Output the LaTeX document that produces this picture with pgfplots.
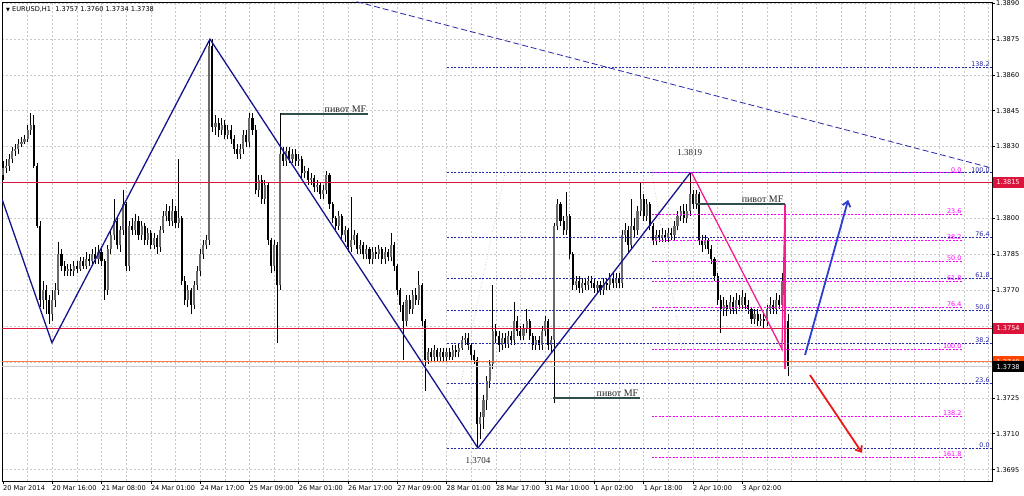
\documentclass[border=0pt]{standalone}
\usepackage{fontspec}
\setmainfont{DejaVu Sans}
\newfontfamily\rufont{Liberation Serif}
\usepackage{pgfplots}
\usepackage{pgfplotstable}
\pgfplotsset{compat=1.18}
\usetikzlibrary{arrows.meta}

\definecolor{navyz}{RGB}{20,20,140}
\definecolor{fibnavy}{RGB}{40,40,170}
\definecolor{fibmag}{RGB}{255,0,255}
\definecolor{crim}{RGB}{220,20,60}
\definecolor{pinkz}{RGB}{245,30,140}
\definecolor{slate}{RGB}{47,79,79}
\definecolor{bullc}{RGB}{105,105,105}
\definecolor{gridc}{RGB}{200,200,200}
\definecolor{orangel}{RGB}{255,120,70}
\definecolor{orangeb}{RGB}{255,69,0}
\definecolor{arrblue}{RGB}{45,60,210}
\definecolor{arrred}{RGB}{235,25,25}

\newcommand\tfont{\fontsize{6.6}{7}\selectfont}
\newcommand\ffont{\fontsize{6.4}{7}\selectfont}
\newcommand\sfont{\rufont\fontsize{10}{10}\selectfont}

\pgfplotstableread{
b o h l c
0 1.3818 1.3824 1.3816 1.3821
1 1.3821 1.3825 1.3819 1.3822
2 1.3822 1.3827 1.3820 1.3825
3 1.3825 1.3830 1.3823 1.3828
4 1.3828 1.3831 1.3826 1.3829
5 1.3829 1.3833 1.3827 1.3831
6 1.3831 1.3834 1.3830 1.3832
7 1.3832 1.3835 1.3831 1.3833
8 1.3833 1.3839 1.3832 1.3837
9 1.3837 1.3844 1.3835 1.3839
10 1.3839 1.3843 1.3821 1.3822
11 1.3822 1.3823 1.3796 1.3797
12 1.3797 1.3799 1.3763 1.3766
13 1.3766 1.3774 1.3762 1.3770
14 1.3770 1.3772 1.3760 1.3766
15 1.3766 1.3768 1.3756 1.3760
16 1.3760 1.3770 1.3757 1.3766
17 1.3766 1.3773 1.3763 1.3770
18 1.3770 1.3790 1.3768 1.3785
19 1.3785 1.3787 1.3778 1.3780
20 1.3780 1.3782 1.3776 1.3778
21 1.3778 1.3781 1.3776 1.3779
22 1.3779 1.3781 1.3776 1.3778
23 1.3778 1.3782 1.3776 1.3780
24 1.3780 1.3782 1.3777 1.3779
25 1.3779 1.3784 1.3778 1.3782
26 1.3782 1.3784 1.3779 1.3780
27 1.3780 1.3786 1.3779 1.3783
28 1.3783 1.3785 1.3780 1.3782
29 1.3782 1.3787 1.3780 1.3785
30 1.3785 1.3788 1.3781 1.3783
31 1.3783 1.3789 1.3781 1.3786
32 1.3786 1.3788 1.3780 1.3782
33 1.3782 1.3783 1.3766 1.3770
34 1.3770 1.3789 1.3768 1.3787
35 1.3787 1.3795 1.3785 1.3793
36 1.3793 1.3808 1.3791 1.3799
37 1.3799 1.3801 1.3787 1.3789
38 1.3789 1.3797 1.3786 1.3795
39 1.3795 1.3812 1.3793 1.3806
40 1.3806 1.3807 1.3778 1.3780
41 1.3780 1.3799 1.3778 1.3797
42 1.3797 1.3800 1.3793 1.3795
43 1.3795 1.3802 1.3793 1.3799
44 1.3799 1.3801 1.3791 1.3793
45 1.3793 1.3799 1.3791 1.3797
46 1.3797 1.3798 1.3789 1.3791
47 1.3791 1.3796 1.3789 1.3794
48 1.3794 1.3795 1.3787 1.3789
49 1.3789 1.3794 1.3787 1.3792
50 1.3792 1.3793 1.3785 1.3788
51 1.3788 1.3797 1.3786 1.3795
52 1.3795 1.3803 1.3794 1.3801
53 1.3801 1.3806 1.3799 1.3803
54 1.3803 1.3805 1.3797 1.3799
55 1.3799 1.3808 1.3797 1.3803
56 1.3803 1.3805 1.3796 1.3798
57 1.3798 1.3825 1.3796 1.3800
58 1.3800 1.3801 1.3772 1.3774
59 1.3774 1.3776 1.3764 1.3766
60 1.3766 1.3772 1.3763 1.3770
61 1.3770 1.3771 1.3760 1.3764
62 1.3764 1.3774 1.3762 1.3772
63 1.3772 1.3780 1.3770 1.3778
64 1.3778 1.3787 1.3776 1.3785
65 1.3785 1.3791 1.3783 1.3789
66 1.3789 1.3793 1.3787 1.3791
67 1.3791 1.3875 1.3789 1.3872
68 1.3872 1.3875 1.3836 1.3838
69 1.3838 1.3843 1.3835 1.3840
70 1.3840 1.3842 1.3834 1.3837
71 1.3837 1.3842 1.3835 1.3839
72 1.3839 1.3841 1.3833 1.3835
73 1.3835 1.3839 1.3833 1.3837
74 1.3837 1.3839 1.3831 1.3833
75 1.3833 1.3835 1.3827 1.3829
76 1.3829 1.3831 1.3825 1.3827
77 1.3827 1.3831 1.3825 1.3829
78 1.3829 1.3837 1.3827 1.3835
79 1.3835 1.3837 1.3830 1.3832
80 1.3832 1.3844 1.3830 1.3842
81 1.3842 1.3844 1.3835 1.3837
82 1.3837 1.3839 1.3810 1.3812
83 1.3812 1.3818 1.3809 1.3816
84 1.3816 1.3818 1.3806 1.3808
85 1.3808 1.3816 1.3806 1.3814
86 1.3814 1.3815 1.3789 1.3791
87 1.3791 1.3792 1.3777 1.3780
88 1.3780 1.3791 1.3778 1.3789
89 1.3789 1.3790 1.3748 1.3772
90 1.3772 1.3844 1.3770 1.3827
91 1.3827 1.3830 1.3822 1.3824
92 1.3824 1.3830 1.3822 1.3828
93 1.3828 1.3830 1.3823 1.3825
94 1.3825 1.3829 1.3823 1.3827
95 1.3827 1.3829 1.3822 1.3824
96 1.3824 1.3827 1.3822 1.3825
97 1.3825 1.3826 1.3817 1.3819
98 1.3819 1.3822 1.3817 1.3820
99 1.3820 1.3821 1.3814 1.3816
100 1.3816 1.3819 1.3814 1.3817
101 1.3817 1.3818 1.3811 1.3813
102 1.3813 1.3816 1.3811 1.3814
103 1.3814 1.3815 1.3808 1.3810
104 1.3810 1.3814 1.3808 1.3812
105 1.3812 1.3820 1.3810 1.3818
106 1.3818 1.3819 1.3804 1.3806
107 1.3806 1.3807 1.3798 1.3800
108 1.3800 1.3801 1.3795 1.3797
109 1.3797 1.3803 1.3795 1.3801
110 1.3801 1.3802 1.3791 1.3793
111 1.3793 1.3797 1.3790 1.3795
112 1.3795 1.3796 1.3786 1.3788
113 1.3788 1.3809 1.3786 1.3791
114 1.3791 1.3795 1.3789 1.3793
115 1.3793 1.3794 1.3785 1.3787
116 1.3787 1.3791 1.3785 1.3789
117 1.3789 1.3790 1.3783 1.3785
118 1.3785 1.3789 1.3783 1.3787
119 1.3787 1.3788 1.3781 1.3783
120 1.3783 1.3788 1.3781 1.3786
121 1.3786 1.3788 1.3783 1.3785
122 1.3785 1.3789 1.3783 1.3787
123 1.3787 1.3788 1.3781 1.3783
124 1.3783 1.3788 1.3781 1.3786
125 1.3786 1.3787 1.3782 1.3784
126 1.3784 1.3794 1.3782 1.3789
127 1.3789 1.3790 1.3778 1.3780
128 1.3780 1.3781 1.3768 1.3770
129 1.3770 1.3771 1.3761 1.3764
130 1.3764 1.3765 1.3741 1.3757
131 1.3757 1.3768 1.3755 1.3766
132 1.3766 1.3768 1.3760 1.3762
133 1.3762 1.3770 1.3760 1.3768
134 1.3768 1.3771 1.3764 1.3766
135 1.3766 1.3778 1.3764 1.3772
136 1.3772 1.3773 1.3755 1.3757
137 1.3757 1.3758 1.3728 1.3741
138 1.3741 1.3746 1.3739 1.3744
139 1.3744 1.3746 1.3740 1.3742
140 1.3742 1.3747 1.3740 1.3745
141 1.3745 1.3746 1.3740 1.3742
142 1.3742 1.3746 1.3740 1.3744
143 1.3744 1.3746 1.3740 1.3742
144 1.3742 1.3746 1.3740 1.3744
145 1.3744 1.3746 1.3741 1.3742
146 1.3742 1.3747 1.3741 1.3745
147 1.3745 1.3747 1.3742 1.3744
148 1.3744 1.3748 1.3742 1.3746
149 1.3746 1.3751 1.3745 1.3749
150 1.3749 1.3752 1.3747 1.3750
151 1.3750 1.3752 1.3745 1.3747
152 1.3747 1.3748 1.3741 1.3743
153 1.3743 1.3745 1.3739 1.3741
154 1.3741 1.3742 1.3704 1.3714
155 1.3714 1.3719 1.3708 1.3717
156 1.3717 1.3726 1.3712 1.3724
157 1.3724 1.3734 1.3720 1.3732
158 1.3732 1.3741 1.3729 1.3739
159 1.3739 1.3772 1.3737 1.3753
160 1.3753 1.3756 1.3748 1.3751
161 1.3751 1.3753 1.3744 1.3747
162 1.3747 1.3752 1.3745 1.3750
163 1.3750 1.3752 1.3746 1.3748
164 1.3748 1.3753 1.3746 1.3751
165 1.3751 1.3753 1.3747 1.3749
166 1.3749 1.3765 1.3747 1.3757
167 1.3757 1.3759 1.3751 1.3753
168 1.3753 1.3755 1.3749 1.3751
169 1.3751 1.3756 1.3749 1.3754
170 1.3754 1.3762 1.3752 1.3757
171 1.3757 1.3758 1.3749 1.3751
172 1.3751 1.3752 1.3745 1.3747
173 1.3747 1.3751 1.3745 1.3749
174 1.3749 1.3751 1.3745 1.3747
175 1.3747 1.3755 1.3745 1.3753
176 1.3753 1.3759 1.3751 1.3757
177 1.3757 1.3758 1.3745 1.3747
178 1.3747 1.3751 1.3744 1.3749
179 1.3749 1.3798 1.3723 1.3797
180 1.3797 1.3808 1.3795 1.3806
181 1.3806 1.3807 1.3797 1.3799
182 1.3799 1.3801 1.3793 1.3795
183 1.3795 1.3811 1.3793 1.3801
184 1.3801 1.3802 1.3783 1.3785
185 1.3785 1.3786 1.3770 1.3772
186 1.3772 1.3776 1.3770 1.3774
187 1.3774 1.3776 1.3769 1.3771
188 1.3771 1.3775 1.3769 1.3773
189 1.3773 1.3775 1.3770 1.3772
190 1.3772 1.3776 1.3770 1.3774
191 1.3774 1.3776 1.3771 1.3773
192 1.3773 1.3775 1.3769 1.3771
193 1.3771 1.3774 1.3769 1.3772
194 1.3772 1.3774 1.3768 1.3770
195 1.3770 1.3775 1.3768 1.3773
196 1.3773 1.3775 1.3770 1.3772
197 1.3772 1.3777 1.3770 1.3775
198 1.3775 1.3777 1.3771 1.3773
199 1.3773 1.3777 1.3771 1.3775
200 1.3775 1.3777 1.3771 1.3773
201 1.3773 1.3795 1.3771 1.3793
202 1.3793 1.3798 1.3790 1.3795
203 1.3795 1.3797 1.3786 1.3789
204 1.3789 1.3808 1.3787 1.3797
205 1.3797 1.3800 1.3792 1.3795
206 1.3795 1.3805 1.3793 1.3803
207 1.3803 1.3815 1.3801 1.3808
208 1.3808 1.3810 1.3799 1.3801
209 1.3801 1.3808 1.3799 1.3806
210 1.3806 1.3807 1.3795 1.3797
211 1.3797 1.3798 1.3789 1.3791
212 1.3791 1.3795 1.3789 1.3793
213 1.3793 1.3795 1.3790 1.3792
214 1.3792 1.3796 1.3790 1.3793
215 1.3793 1.3795 1.3790 1.3792
216 1.3792 1.3796 1.3790 1.3794
217 1.3794 1.3796 1.3791 1.3793
218 1.3793 1.3799 1.3791 1.3797
219 1.3797 1.3803 1.3795 1.3801
220 1.3801 1.3805 1.3799 1.3803
221 1.3803 1.3806 1.3798 1.3800
222 1.3800 1.3806 1.3798 1.3803
223 1.3803 1.3819 1.3801 1.3810
224 1.3810 1.3812 1.3804 1.3806
225 1.3806 1.3812 1.3804 1.3810
226 1.3810 1.3811 1.3789 1.3791
227 1.3791 1.3793 1.3786 1.3789
228 1.3789 1.3793 1.3787 1.3791
229 1.3791 1.3792 1.3785 1.3787
230 1.3787 1.3789 1.3781 1.3783
231 1.3783 1.3784 1.3774 1.3776
232 1.3776 1.3777 1.3764 1.3766
233 1.3766 1.3768 1.3752 1.3762
234 1.3762 1.3767 1.3759 1.3764
235 1.3764 1.3766 1.3759 1.3762
236 1.3762 1.3768 1.3760 1.3765
237 1.3765 1.3767 1.3760 1.3762
238 1.3762 1.3769 1.3760 1.3766
239 1.3766 1.3768 1.3762 1.3764
240 1.3764 1.3770 1.3762 1.3767
241 1.3767 1.3769 1.3762 1.3764
242 1.3764 1.3766 1.3760 1.3762
243 1.3762 1.3763 1.3756 1.3758
244 1.3758 1.3762 1.3756 1.3760
245 1.3760 1.3762 1.3755 1.3757
246 1.3757 1.3760 1.3755 1.3758
247 1.3758 1.3760 1.3754 1.3757
248 1.3757 1.3764 1.3755 1.3762
249 1.3762 1.3767 1.3760 1.3764
250 1.3764 1.3766 1.3760 1.3762
251 1.3762 1.3769 1.3760 1.3766
252 1.3766 1.3768 1.3762 1.3764
253 1.3764 1.3777 1.3762 1.3774
254 1.3774 1.3788 1.3745 1.3757
255 1.3757 1.3760 1.3734 1.3738
}\candles

\begin{document}
\begin{tikzpicture}
\useasboundingbox (-2pt,-14pt) rectangle (1022pt,481pt);
\begin{axis}[
  name=ax,
  at={(0,0)}, anchor=south west,
  scale only axis, width=990pt, height=479pt,
  xmin=-0.32, xmax=321.1, ymin=1.369024, ymax=1.389042,
  axis line style={black, line width=0.7pt},
  xtick={0,16,...,240},
  xticklabels={20 Mar 2014,20 Mar 16:00,21 Mar 08:00,24 Mar 01:00,24 Mar 17:00,25 Mar 09:00,26 Mar 01:00,26 Mar 17:00,27 Mar 09:00,28 Mar 01:00,28 Mar 17:00,31 Mar 10:00,1 Apr 02:00,1 Apr 18:00,2 Apr 10:00,3 Apr 02:00},
  minor xtick={8,16,...,320},
  xminorgrids=true, ymajorgrids=true, xmajorgrids=false,
  minor grid style={gridc, dash pattern=on 2pt off 2pt, line width=0.5pt},
  major grid style={gridc, dash pattern=on 2pt off 2pt, line width=0.5pt},
  minor tick length=0pt,
  major tick length=3pt,
  tick align=outside,
  xtick pos=left, ytick pos=right,
  yticklabel pos=right,
  ytick={1.3695,1.3710,1.3725,1.3740,1.3755,1.3770,1.3785,1.3800,1.3815,1.3830,1.3845,1.3860,1.3875,1.3890},
  yticklabels={1.3695,1.3710,1.3725,{},{},1.3770,1.3785,1.3800,{},1.3830,1.3845,1.3860,1.3875,1.3890},
  scaled y ticks=false,
  ticklabel style={font=\tfont, text=black},
  xticklabel style={anchor=north west, inner sep=1pt, xshift=-1pt},
  yticklabel style={anchor=west, inner sep=1pt},
  tick style={black, line width=0.5pt},
]
% candles: wicks, bear bodies, bull bodies
\addplot[black, line width=0.7pt, quiver={u=0, v=\thisrow{h}-\thisrow{l}}] table[x=b, y=l] {\candles};
\addplot[black, line width=2.1pt, quiver={u=0, v={max(\thisrow{o}-\thisrow{c},0)}}] table[x=b, y=c] {\candles};
\addplot[bullc, line width=2.1pt, quiver={u=0, v={max(\thisrow{c}-\thisrow{o},0)}}] table[x=b, y=o] {\candles};

% horizontal levels
\addplot[crim, line width=1.5pt] coordinates {(-1,1.3815) (330,1.3815)};
\addplot[crim, line width=1.5pt] coordinates {(-1,1.3754) (330,1.3754)};
\addplot[orangel, line width=0.9pt] coordinates {(-1,1.3740) (330,1.3740)};
\addplot[gray!40, line width=0.7pt] coordinates {(-1,1.3738) (330,1.3738)};

% long dashed trend line
\addplot[fibnavy, dash pattern=on 6pt off 3pt, line width=0.8pt] coordinates {(112,1.38915) (321.1,1.38210)};

% gray dotted fib trend lines
\addplot[gray!55, dotted, line width=0.6pt] coordinates {(144.2,1.3704) (163,1.3819)};
\addplot[gray!55, dotted, line width=0.6pt] coordinates {(210.7,1.3819) (220.5,1.3745)};

% navy fibonacci levels
\addplot[fibnavy, dash pattern=on 2pt off 1.5pt, line width=0.8pt] coordinates {(144.2,1.38629) (330,1.38629)};
\addplot[fibnavy, dash pattern=on 2pt off 1.5pt, line width=0.8pt] coordinates {(144.2,1.3819) (330,1.3819)};
\addplot[fibnavy, dash pattern=on 2pt off 1.5pt, line width=0.8pt] coordinates {(144.2,1.37919) (330,1.37919)};
\addplot[fibnavy, dash pattern=on 2pt off 1.5pt, line width=0.8pt] coordinates {(144.2,1.37751) (330,1.37751)};
\addplot[fibnavy, dash pattern=on 2pt off 1.5pt, line width=0.8pt] coordinates {(144.2,1.37615) (330,1.37615)};
\addplot[fibnavy, dash pattern=on 2pt off 1.5pt, line width=0.8pt] coordinates {(144.2,1.37479) (330,1.37479)};
\addplot[fibnavy, dash pattern=on 2pt off 1.5pt, line width=0.8pt] coordinates {(144.2,1.37311) (330,1.37311)};
\addplot[fibnavy, dash pattern=on 2pt off 1.5pt, line width=0.8pt] coordinates {(144.2,1.3704) (330,1.3704)};

% magenta fibonacci levels
\addplot[fibmag, dash pattern=on 2pt off 1.5pt, line width=0.8pt] coordinates {(210.7,1.3819) (311.4,1.3819)};
\addplot[fibmag, dash pattern=on 2pt off 1.5pt, line width=0.8pt] coordinates {(210.7,1.38016) (311.4,1.38016)};
\addplot[fibmag, dash pattern=on 2pt off 1.5pt, line width=0.8pt] coordinates {(210.7,1.37909) (311.4,1.37909)};
\addplot[fibmag, dash pattern=on 2pt off 1.5pt, line width=0.8pt] coordinates {(210.7,1.37822) (311.4,1.37822)};
\addplot[fibmag, dash pattern=on 2pt off 1.5pt, line width=0.8pt] coordinates {(210.7,1.37735) (311.4,1.37735)};
\addplot[fibmag, dash pattern=on 2pt off 1.5pt, line width=0.8pt] coordinates {(210.7,1.37628) (311.4,1.37628)};
\addplot[fibmag, dash pattern=on 2pt off 1.5pt, line width=0.8pt] coordinates {(210.7,1.37454) (311.4,1.37454)};
\addplot[fibmag, dash pattern=on 2pt off 1.5pt, line width=0.8pt] coordinates {(210.7,1.37173) (311.4,1.37173)};
\addplot[fibmag, dash pattern=on 2pt off 1.5pt, line width=0.8pt] coordinates {(210.7,1.36999) (311.4,1.36999)};

% zigzag
\addplot[navyz, line width=1.3pt] coordinates {(-0.3,1.3808) (15.9,1.3748) (67.2,1.38749) (154.2,1.3704) (223.1,1.3819)};
\addplot[pinkz, line width=1.3pt] coordinates {(223.6,1.3819) (252.9,1.37454) (253.9,1.3806)};
\addplot[pinkz, line width=1.3pt] coordinates {(253.9,1.3806) (253.9,1.3737)};

% pivot lines
\addplot[slate, line width=1.2pt] coordinates {(90.3,1.38436) (118.5,1.38436)};
\addplot[slate, line width=1.2pt] coordinates {(178.6,1.37249) (206.8,1.37249)};
\addplot[slate, line width=1.2pt] coordinates {(225.3,1.3806) (253.9,1.3806)};

% arrows
\addplot[arrblue, line width=1.8pt, -{Straight Barb[length=5pt,width=8pt]}] coordinates {(260.4,1.37429) (274.4,1.38077)};
\addplot[arrred, line width=1.8pt, -{Straight Barb[length=5pt,width=8pt]}] coordinates {(262,1.37345) (278.9,1.3702)};

% labels
\node[anchor=south east, font=\sfont, text=black!85, inner sep=1.5pt] at (axis cs:118.5,1.38436) {пивот MF};
\node[anchor=south east, font=\sfont, text=black!85, inner sep=1.5pt] at (axis cs:206.8,1.37249) {пивот MF};
\node[anchor=south east, font=\sfont, text=black!85, inner sep=1.5pt] at (axis cs:253.9,1.3806) {пивот MF};
\node[font=\rufont\fontsize{9}{9}\selectfont, text=black!85] at (axis cs:223,1.38277) {1.3819};
\node[font=\rufont\fontsize{9}{9}\selectfont, text=black!85] at (axis cs:154.2,1.36986) {1.3704};

\node[anchor=south east, font=\ffont, text=fibnavy, inner sep=0.6pt] at (axis cs:320.6,1.38629) {138.2};
\node[anchor=south east, font=\ffont, text=fibnavy, inner sep=0.6pt] at (axis cs:320.6,1.3819) {100.0};
\node[anchor=south east, font=\ffont, text=fibnavy, inner sep=0.6pt] at (axis cs:320.6,1.37919) {76.4};
\node[anchor=south east, font=\ffont, text=fibnavy, inner sep=0.6pt] at (axis cs:320.6,1.37751) {61.8};
\node[anchor=south east, font=\ffont, text=fibnavy, inner sep=0.6pt] at (axis cs:320.6,1.37615) {50.0};
\node[anchor=south east, font=\ffont, text=fibnavy, inner sep=0.6pt] at (axis cs:320.6,1.37479) {38.2};
\node[anchor=south east, font=\ffont, text=fibnavy, inner sep=0.6pt] at (axis cs:320.6,1.37311) {23.6};
\node[anchor=south east, font=\ffont, text=fibnavy, inner sep=0.6pt] at (axis cs:320.6,1.3704) {0.0};

\node[anchor=south east, font=\ffont, text=fibmag, inner sep=0.6pt] at (axis cs:311.4,1.3819) {0.0};
\node[anchor=south east, font=\ffont, text=fibmag, inner sep=0.6pt] at (axis cs:311.4,1.38016) {23.6};
\node[anchor=south east, font=\ffont, text=fibmag, inner sep=0.6pt] at (axis cs:311.4,1.37909) {38.2};
\node[anchor=south east, font=\ffont, text=fibmag, inner sep=0.6pt] at (axis cs:311.4,1.37822) {50.0};
\node[anchor=south east, font=\ffont, text=fibmag, inner sep=0.6pt] at (axis cs:311.4,1.37735) {61.8};
\node[anchor=south east, font=\ffont, text=fibmag, inner sep=0.6pt] at (axis cs:311.4,1.37628) {76.4};
\node[anchor=south east, font=\ffont, text=fibmag, inner sep=0.6pt] at (axis cs:311.4,1.37454) {100.0};
\node[anchor=south east, font=\ffont, text=fibmag, inner sep=0.6pt] at (axis cs:311.4,1.37173) {138.2};
\node[anchor=south east, font=\ffont, text=fibmag, inner sep=0.6pt] at (axis cs:311.4,1.36999) {161.8};

\coordinate (p1815) at (axis cs:321.1,1.3815);
\coordinate (p1754) at (axis cs:321.1,1.3754);
\coordinate (p1740) at (axis cs:321.1,1.3740);
\coordinate (p1738) at (axis cs:321.1,1.3738);
\end{axis}
\node[anchor=west, fill=crim, text=white, font=\tfont, inner sep=0pt, minimum width=31pt, minimum height=11pt, xshift=0.4pt] at (p1815) {1.3815};
\node[anchor=west, fill=crim, text=white, font=\tfont, inner sep=0pt, minimum width=31pt, minimum height=11pt, xshift=0.4pt] at (p1754) {1.3754};
\node[anchor=west, fill=orangeb, text=white, font=\tfont, inner sep=0pt, minimum width=31pt, minimum height=11pt, xshift=0.4pt] at (p1740) {1.3740};
\node[anchor=west, fill=black, text=white, font=\tfont, inner sep=0pt, minimum width=31pt, minimum height=11pt, xshift=0.4pt] at (p1738) {1.3738};
\node[anchor=north west, inner sep=0pt, font=\tfont, xshift=4pt, yshift=-4pt] at (ax.north west) {{\fontsize{5}{5}\selectfont ▼}\ EURUSD,H1\ \ 1.3757 1.3760 1.3734 1.3738};
\end{tikzpicture}
\end{document}
